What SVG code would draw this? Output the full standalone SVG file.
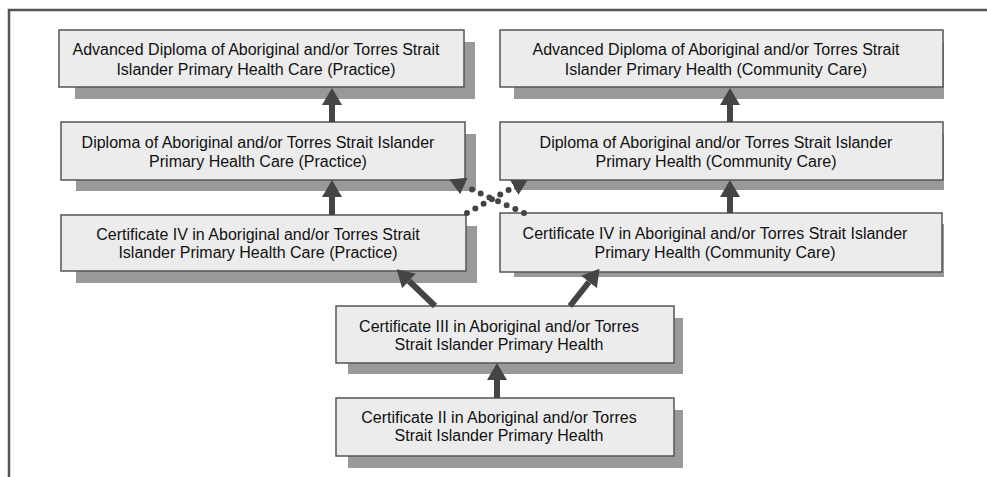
<svg xmlns="http://www.w3.org/2000/svg" width="987" height="477" viewBox="0 0 987 477">
<style>
.frame{fill:none;stroke:#555;stroke-width:2.5}
.box{fill:#ececec;stroke:#555;stroke-width:1.5}
.shadow{fill:#999}
.t{font-family:"Liberation Sans",Arial,sans-serif;font-size:16px;fill:#111;text-anchor:middle}
.arr{stroke:#444;stroke-width:6;fill:none;marker-end:url(#head)}
.dot{stroke:#444;stroke-width:6;fill:none;stroke-dasharray:0 9.5;stroke-linecap:round;marker-end:url(#dhead)}
</style>
<defs>
<marker id="head" markerUnits="userSpaceOnUse" viewBox="0 0 17 20" markerWidth="17" markerHeight="20" refX="0" refY="10" orient="auto"><path d="M0,0 L17,10 L0,20 z" fill="#444"/></marker>
<marker id="dhead" markerUnits="userSpaceOnUse" viewBox="0 0 16 18" markerWidth="16" markerHeight="18" refX="0" refY="9" orient="auto"><path d="M0,0 L16,9 L0,18 z" fill="#444"/></marker>
</defs>
<rect width="987" height="477" fill="#fff"/>
<path class="frame" d="M9,477 V10 H987"/>

<g id="n1"><rect class="shadow" x="75" y="42" width="400" height="57"/><rect class="box" x="59" y="30" width="405" height="57"/><text class="t" x="256" y="55">Advanced Diploma of Aboriginal and/or Torres Strait</text><text class="t" x="256" y="75">Islander Primary Health Care (Practice)</text></g>
<g id="n2"><rect class="shadow" x="76" y="134" width="400" height="57"/><rect class="box" x="61" y="122" width="404" height="58"/><text class="t" x="258" y="148">Diploma of Aboriginal and/or Torres Strait Islander</text><text class="t" x="258" y="167">Primary Health Care (Practice)</text></g>
<g id="n3"><rect class="shadow" x="76" y="226" width="401" height="57"/><rect class="box" x="61" y="215" width="405" height="56"/><text class="t" x="258" y="240">Certificate IV in Aboriginal and/or Torres Strait</text><text class="t" x="258" y="258">Islander Primary Health Care (Practice)</text></g>
<g id="n4"><rect class="shadow" x="514" y="42" width="430" height="57"/><rect class="box" x="500" y="30" width="443" height="57"/><text class="t" x="716" y="55">Advanced Diploma of Aboriginal and/or Torres Strait</text><text class="t" x="716" y="75">Islander Primary Health (Community Care)</text></g>
<g id="n5"><rect class="shadow" x="514" y="134" width="430" height="56"/><rect class="box" x="500" y="122" width="443" height="58"/><text class="t" x="716" y="148">Diploma of Aboriginal and/or Torres Strait Islander</text><text class="t" x="716" y="167">Primary Health (Community Care)</text></g>
<g id="n6"><rect class="shadow" x="514" y="224" width="430" height="53"/><rect class="box" x="500" y="213" width="442" height="59"/><text class="t" x="715" y="239">Certificate IV in Aboriginal and/or Torres Strait Islander</text><text class="t" x="715" y="258">Primary Health (Community Care)</text></g>
<g id="n7"><rect class="shadow" x="348" y="318" width="335" height="56"/><rect class="box" x="336" y="306" width="338" height="57"/><text class="t" x="499" y="332">Certificate III in Aboriginal and/or Torres</text><text class="t" x="499" y="350">Strait Islander Primary Health</text></g>
<g id="n8"><rect class="shadow" x="348" y="410" width="335" height="58"/><rect class="box" x="336" y="398" width="338" height="58"/><text class="t" x="499" y="423">Certificate II in Aboriginal and/or Torres</text><text class="t" x="499" y="441">Strait Islander Primary Health</text></g>

<g id="connectors">
<line class="arr" x1="332" y1="122" x2="332" y2="105"/>
<line class="arr" x1="332" y1="215" x2="332" y2="197"/>
<line class="arr" x1="730" y1="122" x2="730" y2="105"/>
<line class="arr" x1="730" y1="213" x2="730" y2="197"/>
<line class="arr" x1="497" y1="398" x2="497" y2="380"/>
<line class="arr" x1="435" y1="306" x2="409" y2="281"/>
<line class="arr" x1="570" y1="306" x2="589" y2="282"/>
<line class="dot" x1="467" y1="213" x2="514" y2="187"/>
<line class="dot" x1="524" y1="213" x2="464" y2="186"/>
</g>
</svg>
